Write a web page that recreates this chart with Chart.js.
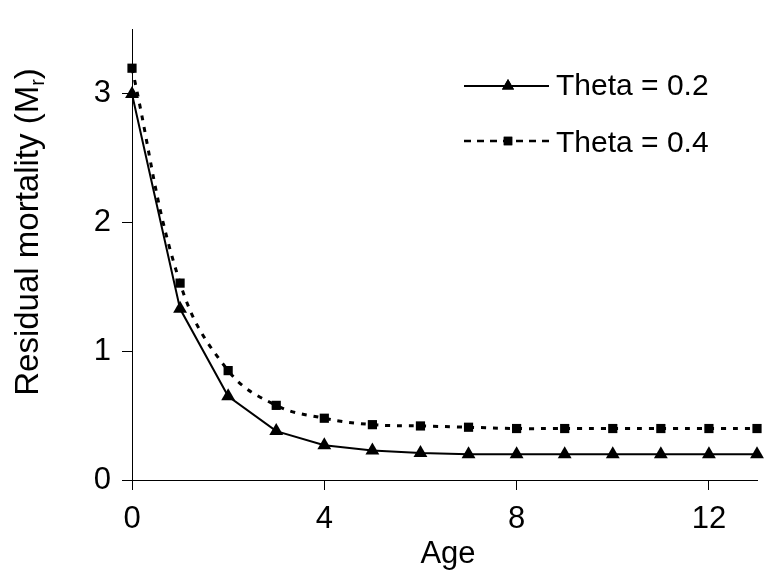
<!DOCTYPE html>
<html>
<head>
<meta charset="utf-8">
<script src="https://cdn.jsdelivr.net/npm/chart.js@4"></script>
<style>
  html, body { margin: 0; padding: 0; background: #fff; }
  #wrap { width: 765px; height: 571px; position: relative; }
</style>
</head>
<body>
<div id="wrap"><canvas id="c" width="765" height="571"></canvas></div>
<script>
// ---- data ----
const ages = [0, 1, 2, 3, 4, 5, 6, 7, 8, 9, 10, 11, 12, 13];
const theta02 = [3.0, 1.33, 0.65, 0.38, 0.27, 0.23, 0.21, 0.20, 0.20, 0.20, 0.20, 0.20, 0.20, 0.20];
const theta04 = [3.2, 1.53, 0.85, 0.58, 0.48, 0.43, 0.42, 0.41, 0.40, 0.40, 0.40, 0.40, 0.40, 0.40];
const seriesLabels = ['Theta = 0.2', 'Theta = 0.4'];
const xTickValues = [0, 4, 8, 12];
const yTickValues = [0, 1, 2, 3];
const xTitle = 'Age';
const yTitleMain = 'Residual mortality (M';
const yTitleSub = 'r';
const yTitleEnd = ')';

const FONT = "'Liberation Sans', Arial, sans-serif";

const ds = [
  {
    label: seriesLabels[0],
    data: ages.map((a, i) => ({ x: a, y: theta02[i] })),
    borderColor: '#000', backgroundColor: '#000',
    borderWidth: 2, pointStyle: 'triangle', pointRadius: 8,
    pointBorderWidth: 0, tension: 0, clip: false
  },
  {
    label: seriesLabels[1],
    data: ages.map((a, i) => ({ x: a, y: theta04[i] })),
    borderColor: '#000', backgroundColor: '#000',
    borderWidth: 3, borderDash: [5, 7], pointStyle: 'rect', pointRadius: 6.5,
    pointBorderWidth: 0, tension: 0.4, clip: false
  }
];

const overlay = {
  id: 'overlay',
  afterDraw(chart) {
    const ctx = chart.ctx;
    ctx.save();
    // custom legend
    const rows = [{ y: 86, base: 95, d: 0, dash: [] }, { y: 141, base: 152, d: 1, dash: [7, 6] }];
    rows.forEach(r => {
      const d = chart.data.datasets[r.d];
      ctx.strokeStyle = '#000';
      ctx.lineWidth = r.d === 0 ? 2 : 2.5;
      ctx.setLineDash(r.dash);
      ctx.beginPath();
      ctx.moveTo(464, r.y); ctx.lineTo(549, r.y);
      ctx.stroke();
      ctx.setLineDash([]);
      ctx.fillStyle = '#000';
      Chart.helpers.drawPoint(ctx, { pointStyle: d.pointStyle, radius: d.pointStyle === 'triangle' ? 7 : 6, borderWidth: 0 }, 508, r.y);
      ctx.fill();
      ctx.font = '30px ' + FONT;
      ctx.textBaseline = 'alphabetic';
      ctx.textAlign = 'left';
      ctx.fillText(d.label, 556, r.base);
    });
    // x title
    ctx.font = '31px ' + FONT;
    ctx.textAlign = 'center';
    ctx.fillText(xTitle, 448, 563);
    // y title with subscript
    const fs = 33;
    ctx.translate(38, 232);
    ctx.rotate(-Math.PI / 2);
    ctx.textAlign = 'left';
    ctx.font = fs + 'px ' + FONT;
    const w1 = ctx.measureText(yTitleMain).width;
    const w3 = ctx.measureText(yTitleEnd).width;
    ctx.font = Math.round(fs * 0.62) + 'px ' + FONT;
    const w2 = ctx.measureText(yTitleSub).width;
    const total = w1 + w2 + w3;
    let x0 = -total / 2;
    ctx.font = fs + 'px ' + FONT;
    ctx.fillText(yTitleMain, x0, 0);
    ctx.font = Math.round(fs * 0.62) + 'px ' + FONT;
    ctx.fillText(yTitleSub, x0 + w1, 6);
    ctx.font = fs + 'px ' + FONT;
    ctx.fillText(yTitleEnd, x0 + w1 + w2, 0);
    ctx.restore();
  }
};

new Chart(document.getElementById('c'), {
  type: 'line',
  data: { datasets: ds },
  plugins: [overlay],
  options: {
    responsive: false,
    animation: false,
    layout: { padding: { left: 0, right: 3, top: 9, bottom: 0 } },
    plugins: { legend: { display: false }, tooltip: { enabled: false } },
    scales: {
      x: {
        type: 'linear', min: 0, max: 13,
        afterFit(s) { s.height = 91; },
        afterBuildTicks(s) { s.ticks = xTickValues.map(v => ({ value: v })); },
        grid: { drawOnChartArea: false, drawTicks: true, tickLength: 10, color: '#000', lineWidth: 1 },
        border: { display: true, color: '#000', width: 1 },
        ticks: { color: '#000', font: { family: FONT, size: 31 }, padding: 11, maxRotation: 0 }
      },
      y: {
        type: 'linear', min: 0, max: 3.5,
        afterFit(s) { s.width = 132; },
        afterBuildTicks(s) { s.ticks = yTickValues.map(v => ({ value: v })); },
        grid: { drawOnChartArea: false, drawTicks: true, tickLength: 10, color: '#000', lineWidth: 1 },
        border: { display: true, color: '#000', width: 1 },
        ticks: { color: '#000', font: { family: FONT, size: 31 }, padding: 11 }
      }
    }
  }
});
</script>
</body>
</html>
